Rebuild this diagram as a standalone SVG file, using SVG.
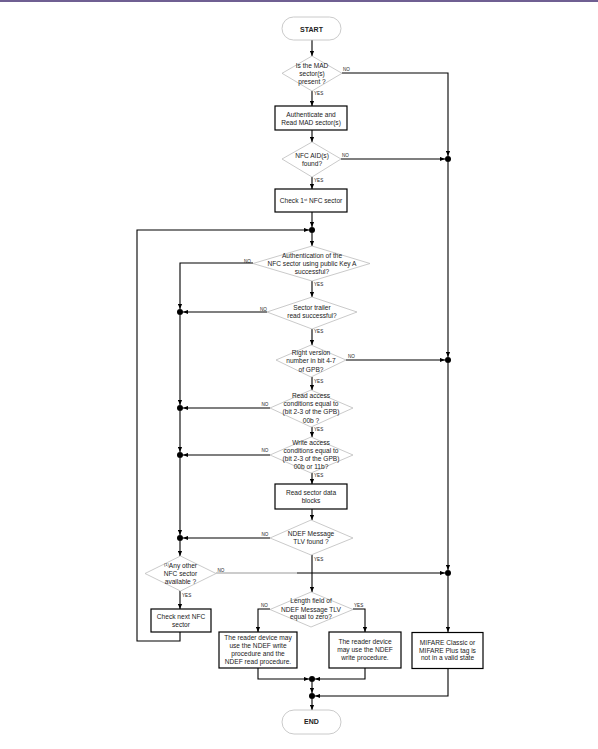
<svg xmlns="http://www.w3.org/2000/svg" width="598" height="749" viewBox="0 0 598 749">
<defs>
<style>
.t{font-family:"Liberation Sans",Arial,sans-serif;font-size:6.6px;fill:#222;text-anchor:middle}
.bo{font-weight:bold;font-size:7px}
.l{font-family:"Liberation Sans",Arial,sans-serif;font-size:4.6px;fill:#222}
.d{fill:#fff;stroke:#bdbdbd;stroke-width:0.8}
.b{fill:#fff;stroke:#000;stroke-width:1.2}
.c{fill:none;stroke:#000;stroke-width:1.1}
.g{fill:none;stroke:#9a9a9a;stroke-width:1.1}
.dot{fill:#000}
.sup{font-size:4px}
</style>
<marker id="a" viewBox="0 0 6 6" refX="6" refY="3" markerWidth="5" markerHeight="5" markerUnits="userSpaceOnUse" orient="auto"><path d="M0,0.5L6,3L0,5.5z" fill="#000"/></marker>
</defs>
<rect width="598" height="749" fill="#fff"/>
<line x1="0" y1="1" x2="598" y2="1" stroke="#3f2a6e" stroke-width="1.5"/>

<g id="connectors">
<path class="c" marker-end="url(#a)" d="M312,40V56"/>
<path class="c" marker-end="url(#a)" d="M312,91V106"/>
<path class="c" marker-end="url(#a)" d="M312,130V142"/>
<path class="c" marker-end="url(#a)" d="M312,177V189"/>
<path class="c" marker-end="url(#a)" d="M312,212V227"/>
<path class="c" marker-end="url(#a)" d="M312,233V246"/>
<path class="c" marker-end="url(#a)" d="M312,281V297"/>
<path class="c" marker-end="url(#a)" d="M312,329V345"/>
<path class="c" marker-end="url(#a)" d="M312,377V390"/>
<path class="c" marker-end="url(#a)" d="M312,427V437"/>
<path class="c" marker-end="url(#a)" d="M312,473V484"/>
<path class="c" marker-end="url(#a)" d="M312,509V520"/>
<path class="c" marker-end="url(#a)" d="M312,555V592"/>
<path class="c" marker-end="url(#a)" d="M342,73H448V156"/>
<path class="c" marker-end="url(#a)" d="M341,159H445"/>
<path class="c" marker-end="url(#a)" d="M448,162V357"/>
<path class="c" marker-end="url(#a)" d="M346,360H445"/>
<path class="c" marker-end="url(#a)" d="M448,363V570"/>
<path class="g" d="M216,573H297"/>
<path class="c" marker-end="url(#a)" d="M297,573H445"/>
<path class="c" marker-end="url(#a)" d="M448,576V632"/>
<path class="c" marker-end="url(#a)" d="M253,263H180V309"/>
<path class="c" marker-end="url(#a)" d="M267,312H183"/>
<path class="c" marker-end="url(#a)" d="M180,315V405"/>
<path class="c" marker-end="url(#a)" d="M270,408H183"/>
<path class="c" marker-end="url(#a)" d="M180,411V452"/>
<path class="c" marker-end="url(#a)" d="M270,455H183"/>
<path class="c" marker-end="url(#a)" d="M180,458V535"/>
<path class="c" marker-end="url(#a)" d="M270,538H183"/>
<path class="c" marker-end="url(#a)" d="M180,541V556"/>
<path class="c" marker-end="url(#a)" d="M180,591V609"/>
<path class="c" marker-end="url(#a)" d="M180,632V641H137V230H309"/>
<path class="c" marker-end="url(#a)" d="M270,609H258V632"/>
<path class="c" marker-end="url(#a)" d="M353,609H365V632"/>
<path class="c" marker-end="url(#a)" d="M258,668V679H309"/>
<path class="c" marker-end="url(#a)" d="M365,668V679H315"/>
<path class="c" marker-end="url(#a)" d="M312,682V693"/>
<path class="c" marker-end="url(#a)" d="M448,669V696H315"/>
<path class="c" marker-end="url(#a)" d="M312,699V710"/>
<circle class="dot" cx="312" cy="230" r="3"/>
<circle class="dot" cx="448" cy="159" r="3"/>
<circle class="dot" cx="448" cy="360" r="3"/>
<circle class="dot" cx="448" cy="573" r="3"/>
<circle class="dot" cx="180" cy="312" r="3"/>
<circle class="dot" cx="180" cy="408" r="3"/>
<circle class="dot" cx="180" cy="455" r="3"/>
<circle class="dot" cx="180" cy="538" r="3"/>
<circle class="dot" cx="312" cy="679" r="3"/>
<circle class="dot" cx="312" cy="696" r="3"/>
<text class="l" x="343" y="71">NO</text>
<text class="l" x="314" y="95">YES</text>
<text class="l" x="342" y="157">NO</text>
<text class="l" x="314" y="181.5">YES</text>
<text class="l" x="244" y="263">NO</text>
<text class="l" x="314" y="285.5">YES</text>
<text class="l" x="260" y="310.5">NO</text>
<text class="l" x="314" y="333">YES</text>
<text class="l" x="348" y="358">NO</text>
<text class="l" x="314" y="383">YES</text>
<text class="l" x="261.5" y="405.5">NO</text>
<text class="l" x="314" y="430.5">YES</text>
<text class="l" x="261.5" y="452">NO</text>
<text class="l" x="314" y="476.5">YES</text>
<text class="l" x="261.5" y="535.5">NO</text>
<text class="l" x="314" y="560.5">YES</text>
<text class="l" x="217.5" y="571.5">NO</text>
<text class="l" x="182" y="597">YES</text>
<text class="l" x="261" y="606.5">NO</text>
<text class="l" x="354" y="606.5">YES</text>
</g>

<g id="start">
<rect class="d" x="282" y="17" width="59" height="23" rx="11.5"/>
<text class="t bo" x="311.5" y="31.5">START</text>
</g>
<g id="d1">
<polygon class="d" points="312,56 342,73.3 312,91 282,73.3"/>
<text class="t" x="312" y="67.5">Is the MAD</text>
<text class="t" x="312" y="76">sector(s)</text>
<text class="t" x="312" y="84">present ?</text>
</g>
<g id="box1">
<rect class="b" x="275" y="106" width="72" height="24"/>
<text class="t" x="311" y="117">Authenticate and</text>
<text class="t" x="311" y="124.5">Read MAD sector(s)</text>
</g>
<g id="d2">
<polygon class="d" points="312,142 341,159 312,177 282,159"/>
<text class="t" x="312" y="157.5">NFC AID(s)</text>
<text class="t" x="312" y="166">found?</text>
</g>
<g id="box2">
<rect class="b" x="275" y="189" width="72" height="23"/>
<text class="t" x="311" y="203">Check 1<tspan class="sup" dy="-2.5">st</tspan><tspan dy="2.5"> NFC sector</tspan></text>
</g>
<g id="d3">
<polygon class="d" points="312,246 370,263.5 312,281 253,263.5"/>
<text class="t" x="312" y="257.5">Authentication of the</text>
<text class="t" x="312" y="266">NFC sector using public Key A</text>
<text class="t" x="312" y="274">successful?</text>
</g>
<g id="d4">
<polygon class="d" points="312,297 357,312 312,329 267,312"/>
<text class="t" x="312" y="310">Sector trailer</text>
<text class="t" x="312" y="318">read successful?</text>
</g>
<g id="d5">
<polygon class="d" points="311,345 346,360 311,377 276,360"/>
<text class="t" x="311" y="355">Right version</text>
<text class="t" x="311" y="363">number in bit 4-7</text>
<text class="t" x="311" y="371.5">of GPB?</text>
</g>
<g id="d6">
<polygon class="d" points="311,390 353,408 311,427 270,408"/>
<text class="t" x="311" y="397.5">Read access</text>
<text class="t" x="311" y="406">conditions equal to</text>
<text class="t" x="311" y="414">(bit 2-3 of the GPB)</text>
<text class="t" x="311" y="422.5">00b ?</text>
</g>
<g id="d7">
<polygon class="d" points="311,437 353,455 311,473 270,455"/>
<text class="t" x="311" y="445">Write access</text>
<text class="t" x="311" y="452.5">conditions equal to</text>
<text class="t" x="311" y="461">(bit 2-3 of the GPB)</text>
<text class="t" x="311" y="468.5">00b or 11b?</text>
</g>
<g id="box3">
<rect class="b" x="275" y="484" width="72" height="25"/>
<text class="t" x="311" y="495">Read sector data</text>
<text class="t" x="311" y="503">blocks</text>
</g>
<g id="d8">
<polygon class="d" points="311,520 353,538 311,555 270,538"/>
<text class="t" x="311" y="536">NDEF Message</text>
<text class="t" x="311" y="543.5">TLV found ?</text>
</g>
<g id="d9">
<polygon class="d" points="180.5,556 216,573.5 180.5,591 145,573.5"/>
<text class="t" x="180.5" y="567.5"><tspan class="sup" dy="-2">(1)</tspan><tspan dy="2">Any other</tspan></text>
<text class="t" x="180.5" y="575.5">NFC sector</text>
<text class="t" x="180.5" y="583.5">available ?</text>
</g>
<g id="box4">
<rect class="b" x="151" y="609" width="60" height="23"/>
<text class="t" x="181" y="619">Check next NFC</text>
<text class="t" x="181" y="627">sector</text>
</g>
<g id="d10">
<polygon class="d" points="311,592 353,609.5 311,627 270,609.5"/>
<text class="t" x="311" y="603">Length field of</text>
<text class="t" x="311" y="611.5">NDEF Message TLV</text>
<text class="t" x="311" y="619">equal to zero?</text>
</g>
<g id="box5">
<rect class="b" x="219" y="632" width="78" height="36"/>
<text class="t" x="258" y="640">The reader device may</text>
<text class="t" x="258" y="648">use the NDEF write</text>
<text class="t" x="258" y="656">procedure and the</text>
<text class="t" x="258" y="664">NDEF read procedure.</text>
</g>
<g id="box6">
<rect class="b" x="329" y="632" width="72" height="36"/>
<text class="t" x="365" y="644">The reader device</text>
<text class="t" x="365" y="652">may use the NDEF</text>
<text class="t" x="365" y="660">write procedure.</text>
</g>
<g id="box7">
<rect class="b" x="412" y="632.5" width="71" height="36"/>
<text class="t" x="447.5" y="645">MIFARE Classic or</text>
<text class="t" x="447.5" y="652.5">MIFARE Plus tag is</text>
<text class="t" x="447.5" y="659.5">not in a valid state</text>
</g>
<g id="end">
<rect class="d" x="282" y="710" width="59" height="24" rx="12"/>
<text class="t bo" x="311.5" y="724">END</text>
</g>
</svg>
